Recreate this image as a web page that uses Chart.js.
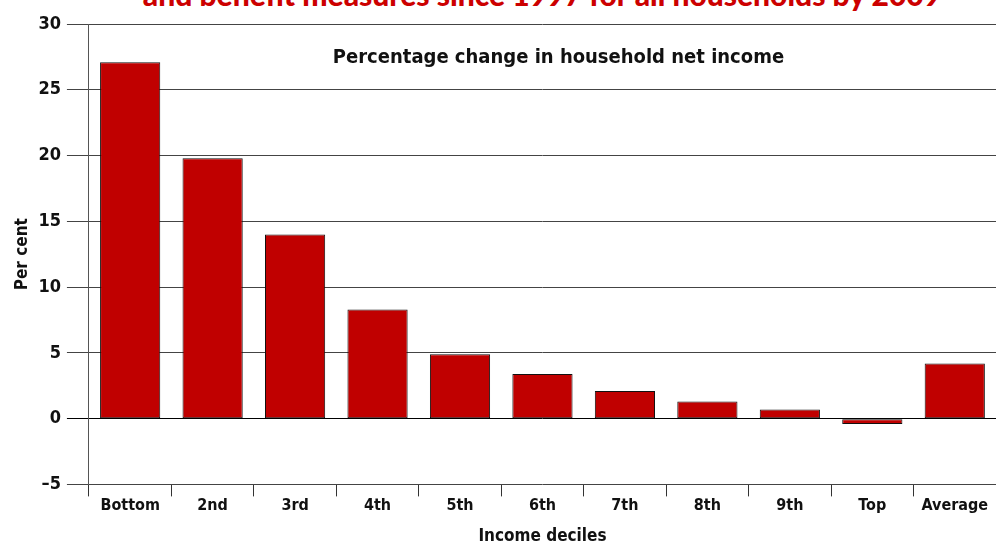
<!DOCTYPE html>
<html>
<head>
<meta charset="utf-8">
<script src="https://cdn.jsdelivr.net/npm/chart.js@4.4.1/dist/chart.umd.min.js"></script>
<style>
  html, body { margin: 0; padding: 0; background: #fff; overflow: hidden; }
  #wrap { position: relative; width: 996px; height: 547px; }
  #head {
    position: absolute; left: 0; right: 0; top: -24px; text-align: center;
    padding-left: 88px; line-height: 36px;
    font: 900 30px Lato, sans-serif; color: #cc0000; white-space: nowrap;
  }
  canvas { position: absolute; left: 0; top: 0; }
</style>
</head>
<body>
<div id="wrap">
  <div id="head">and benefit measures since 1997 for all households by 2009</div>
  <canvas id="decileChart" width="996" height="547"></canvas>
</div>
<script>
// ========== Data ==========
const deciles = ['Bottom', '2nd', '3rd', '4th', '5th', '6th', '7th', '8th', '9th', 'Top', 'Average'];
const pctChange = [27.1, 19.8, 14.0, 8.3, 4.9, 3.4, 2.1, 1.3, 0.7, -0.4, 4.2];
const yTicks = [-5, 0, 5, 10, 15, 20, 25, 30];

const FONT = '"DejaVu Sans Condensed", "DejaVu Sans", sans-serif';

// caption inside the plot area
const innerTitle = {
  id: 'innerTitle',
  afterDraw(chart) {
    const { ctx, chartArea } = chart;
    ctx.save();
    ctx.font = 'bold 20px ' + FONT;
    ctx.fillStyle = '#111';
    ctx.textAlign = 'center';
    ctx.textBaseline = 'middle';
    ctx.fillText('Percentage change in household net income', (chartArea.left + chartArea.right) / 2 + 16, chartArea.top + 34);
    ctx.restore();
  }
};

const ctx = document.getElementById('decileChart');
new Chart(ctx, {
  type: 'bar',
  data: {
    labels: deciles,
    datasets: [{
      data: pctChange,
      backgroundColor: '#c00000',
      borderColor: '#111',
      borderWidth: 1,
      borderSkipped: false,
      barPercentage: 0.73,
      categoryPercentage: 1
    }]
  },
  options: {
    responsive: false,
    animation: false,
    layout: { padding: { top: 24, right: 0, left: 12, bottom: 0 } },
    plugins: { legend: { display: false }, tooltip: { enabled: false } },
    scales: {
      x: {
        grid: { offset: true, drawOnChartArea: false, drawTicks: true, tickLength: 12, color: '#333', lineWidth: 1 },
        border: { display: false },
        ticks: { color: '#111', font: { size: 16, weight: 'bold', family: FONT }, padding: 0, maxRotation: 0, autoSkip: false },
        title: { display: true, text: 'Income deciles', color: '#111', font: { size: 17, weight: 'bold', family: FONT }, padding: { top: 11, bottom: 0 } }
      },
      y: {
        min: -5, max: 30,
        afterBuildTicks: axis => { axis.ticks = yTicks.map(v => ({ value: v })); },
        grid: {
          color: c => c.tick && c.tick.value === 0 ? '#000' : '#444',
          lineWidth: 1, tickLength: 22, drawTicks: true
        },
        border: { display: true, color: '#555', width: 1 },
        ticks: {
          color: '#111', font: { size: 18, weight: 'bold', family: FONT }, padding: 6,
          callback: v => v < 0 ? '\u2013' + Math.abs(v) : v
        },
        title: { display: true, text: 'Per cent', color: '#111', font: { size: 17, weight: 'bold', family: FONT }, padding: { top: 0, bottom: 0 } }
      }
    }
  },
  plugins: [innerTitle]
});
</script>
</body>
</html>
